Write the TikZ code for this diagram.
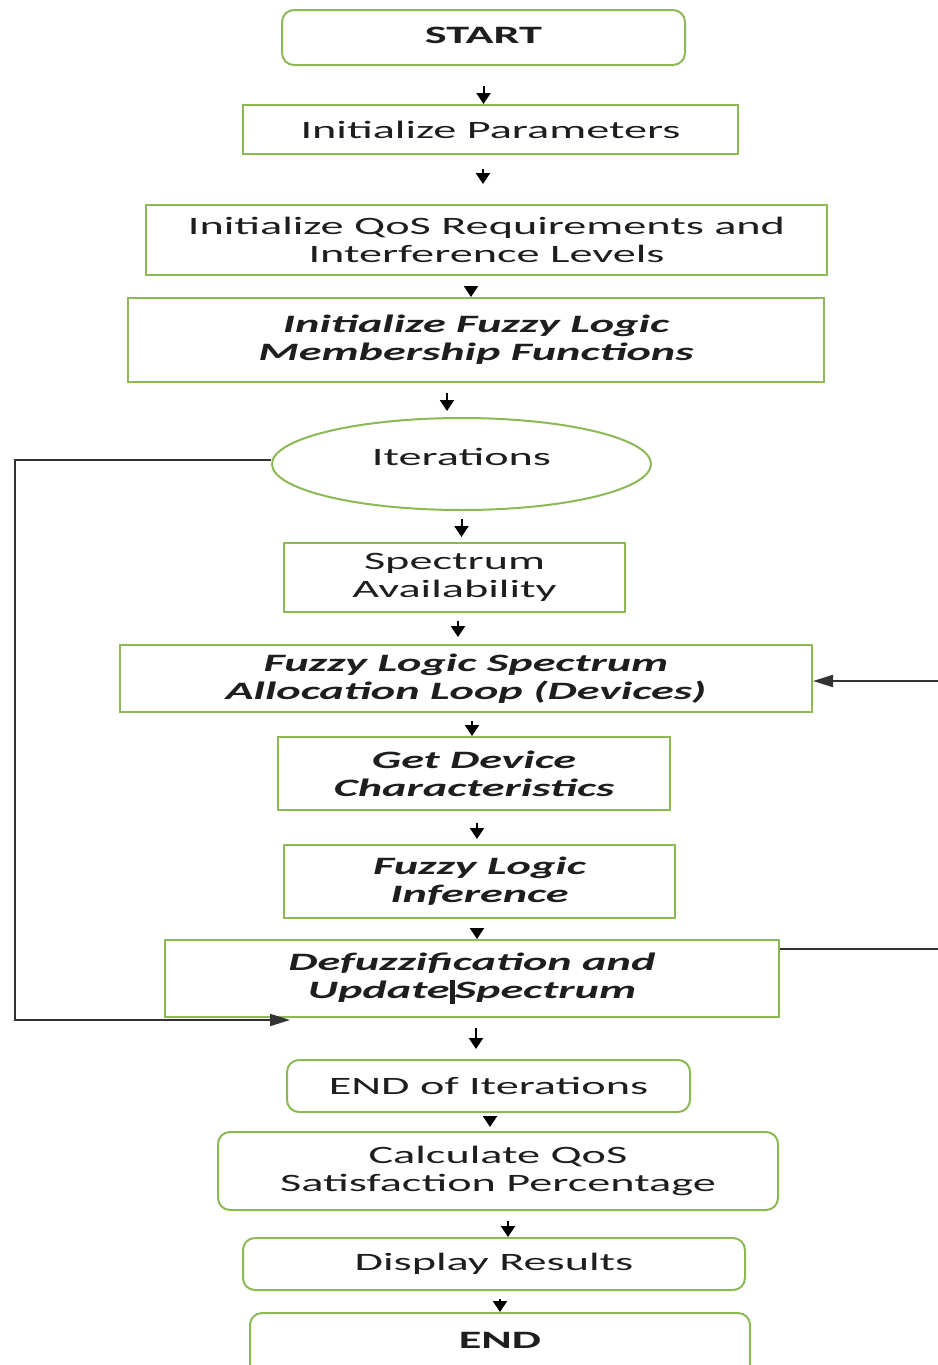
\documentclass[tikz,border=0pt]{standalone}
\usepackage{fontspec}
\setmainfont{Carlito}[FakeStretch=1.85]
\usepackage{tikz}
\usetikzlibrary{arrows.meta,shapes.geometric}
\definecolor{boxgreen}{RGB}{140,185,85}
\definecolor{inkgray}{RGB}{30,30,30}

\begin{document}
\begin{tikzpicture}[x=0.5pt,y=-0.5pt,>={Triangle[length=5.5pt,width=7pt]},semithick]
  \tikzstyle{every node}=[text=inkgray,font=\fontsize{12.5}{14}\selectfont]
  \tikzstyle{box}=[rectangle,draw=boxgreen,line width=1pt,fill=white,align=center,inner sep=0pt]
  \tikzstyle{rbox}=[box,rounded corners=6pt]
  \tikzstyle{bibox}=[box,font=\fontsize{12.5}{14}\selectfont\bfseries\itshape]
  \tikzstyle{oval}=[ellipse,draw=boxgreen,line width=1pt,fill=white,inner sep=0pt]
  \tikzstyle{flow}=[->,black,line width=1pt]
  \tikzstyle{back}=[-{Triangle[length=10pt,width=6pt]},draw=black!80,line width=1pt]

  \useasboundingbox (0,0) rectangle (937,1365);

  \node[rbox,minimum width=201.5pt,minimum height=27.5pt] (start) at (483.5,37.5) {\raisebox{2pt}{\textbf{START}}};
  \node[box,minimum width=247.5pt,minimum height=24.5pt] (init)  at (490.5,129.5) {Initialize Parameters};
  \node[box,minimum width=340.5pt,minimum height=35pt]   (qos)   at (486.5,240) {Initialize QoS Requirements and\\Interference Levels};
  \node[bibox,minimum width=348pt,minimum height=42pt]   (fuzzy) at (476,340) {Initialize Fuzzy Logic\\Membership Functions};
  \node[oval,minimum width=189.5pt,minimum height=46pt]  (iter)  at (461.5,464) {\raisebox{7pt}{Iterations}};
  \node[box,minimum width=170.5pt,minimum height=34.5pt] (spec)  at (454.5,577.5) {Spectrum\\Availability};
  \node[bibox,minimum width=346pt,minimum height=33.5pt] (alloc) at (466,678.5) {Fuzzy Logic Spectrum\\Allocation Loop (Devices)};
  \node[bibox,minimum width=196pt,minimum height=36.5pt] (dev)   at (474,773.5) {Get Device\\Characteristics};
  \node[bibox,minimum width=195.5pt,minimum height=36.5pt] (inf) at (479.5,881.5) {Fuzzy Logic\\Inference};
  \node[bibox,minimum width=307pt,minimum height=38.5pt] (defuz) at (472,978.5) {Defuzzification and\\Update\rule[-2.5pt]{2.5pt}{12pt}Spectrum};
  \node[rbox,minimum width=201.5pt,minimum height=26pt]  (endit) at (488.5,1086) {END of Iterations};
  \node[rbox,minimum width=280pt,minimum height=39pt]    (calc)  at (498,1171) {Calculate QoS\\Satisfaction Percentage};
  \node[rbox,minimum width=251pt,minimum height=26pt]    (disp)  at (494,1264) {Display Results};
  \node[rbox,minimum width=250pt,minimum height=32pt]    (end)   at (500,1345) {\raisebox{5pt}{\textbf{END}}};

  % main flow
  \draw[flow,shorten <=10pt] (start.south) -- (start.south |- init.north);
  \draw[flow,shorten <=7pt,shorten >=10pt] ([xshift=-3.75pt]init.south) -- ([xshift=-3.75pt]init.south |- qos.north);
  \draw[flow,shorten <=5pt] ([xshift=-7.75pt]qos.south) -- ([xshift=-7.75pt]qos.south |- fuzzy.north);
  \draw[flow,shorten <=5pt,shorten >=3pt] ([xshift=-14.5pt]fuzzy.south) -- ([xshift=-14.5pt]fuzzy.south |- iter.north);
  \draw[flow,shorten <=4pt,shorten >=2.5pt] (iter.south) -- (iter.south |- spec.north);
  \draw[flow,shorten <=4pt,shorten >=3.5pt] ([xshift=1.75pt]spec.south) -- ([xshift=1.75pt]spec.south |- alloc.north);
  \draw[flow,shorten <=4pt] ([xshift=3pt]alloc.south) -- ([xshift=3pt]alloc.south |- dev.north);
  \draw[flow,shorten <=6pt,shorten >=2.5pt] ([xshift=1.5pt]dev.south) -- ([xshift=1.5pt]dev.south |- inf.north);
  \draw[flow,shorten <=5pt] ([xshift=-1.25pt]inf.south) -- ([xshift=-1.25pt]inf.south |- defuz.north);
  \draw[flow,shorten <=5pt,shorten >=5pt] ([xshift=2pt]defuz.south) -- ([xshift=2pt]defuz.south |- endit.north);
  \draw[flow,shorten <=2.5pt,shorten >=2pt] ([xshift=0.75pt]endit.south) -- ([xshift=0.75pt]endit.south |- calc.north);
  \draw[flow,shorten <=5pt] ([xshift=5pt]calc.south) -- ([xshift=5pt]calc.south |- disp.north);
  \draw[flow,shorten <=4pt] ([xshift=3pt]disp.south) -- ([xshift=3pt]disp.south |- end.north);

  % feedback loops
  \coordinate (lcorner) at (15,1020);
  \coordinate (loopin)  at (290,1020);
  \coordinate (rtop)    at (941,681);
  \draw[back] ([yshift=2pt]iter.west) -| (lcorner) -- (loopin);
  \draw[back] ([yshift=15pt]defuz.east) -| (rtop) -- (alloc.east |- rtop);
\end{tikzpicture}
\end{document}
